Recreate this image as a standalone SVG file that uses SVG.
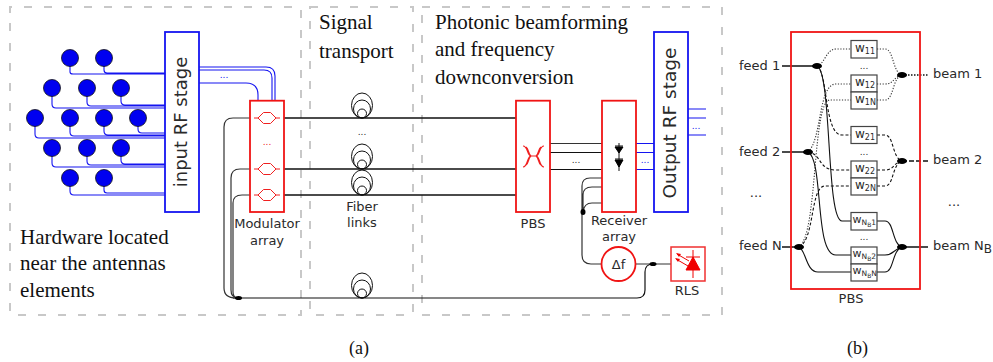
<svg xmlns="http://www.w3.org/2000/svg" width="993" height="362" viewBox="0 0 993 362">
<defs>
<style>
text{font-family:"DejaVu Sans",sans-serif;fill:#2a2a2a}
.serif{font-family:"Liberation Serif",serif;font-size:21px;fill:#111}
.lab{font-size:13px;text-anchor:middle}
.lab2{font-size:13px}
.d{font-size:9px;text-anchor:middle}
.dash{fill:none;stroke:#c8c8c8;stroke-width:2;stroke-dasharray:8 12}
.blue{fill:none;stroke:#1414f0;stroke-width:1.100}
.bk{fill:none;stroke:#111;stroke-width:1.700}
.gr{fill:none;stroke:#333;stroke-width:1.200}
.rb{fill:#fff;stroke:#f01414;stroke-width:1.800}
.bb{fill:#fff;stroke:#1414f0;stroke-width:1.800}
.rl{fill:none;stroke:#f02020;stroke-width:1}
.ant{fill:#0000f0;stroke:#111;stroke-width:.8}
.coil{fill:none;stroke:#111;stroke-width:1}
.w{fill:#fff;stroke:#444;stroke-width:1.200}
.s{fill:none;stroke:#111;stroke-width:1.100}
.dt{fill:none;stroke:#333;stroke-width:1.100;stroke-dasharray:1.200 1.600}
.da{fill:none;stroke:#111;stroke-width:1.100;stroke-dasharray:3 2}
.hub{fill:#000}
</style>
<g id="mz"><path class="rl" d="M-13 0H-9L-3.500 -5.500H3.500L9 0H13M-9 0L-3.500 5.500H3.500L9 0"/></g>
<g id="coilg"><ellipse class="coil" cx="0" cy="-12.500" rx="10.500" ry="12.500"/><ellipse class="coil" cx="0" cy="-9" rx="8.500" ry="9"/><ellipse class="coil" cx="0" cy="-4.500" rx="4.500" ry="4.500"/></g>
</defs>
<g id="regions">
<path class="dash" d="M10 13V7H301V315H10V13"/>
<path class="dash" d="M310 7H413V315H310Z"/>
<path class="dash" d="M422 7H722V315H422Z"/>
</g>
<g id="connectors">
<path class="blue" d="M70 66V72Q70 74 73 74H165M104 66V70Q104 73 107 73H165"/>
<path class="blue" d="M52 96V104Q52 108 56 108H165M87 96V102Q87 106 91 106H165M121 96V101Q121 105 125 105H165"/>
<path class="blue" d="M35 126V134Q35 138 39 138H165M70 126V132Q70 136 74 136H165M104 126V131Q104 135 108 135H165M138 126V129Q138 133 142 133H165"/>
<path class="blue" d="M52 156V163Q52 167 56 167H165M87 156V161Q87 165 91 165H165M121 156V160Q121 164 125 164H165"/>
<path class="blue" d="M70 186V191Q70 195 74 195H165M104 186V190Q104 193 107 193H165"/>
<path class="blue" d="M199 67H266Q275 67 275 76V101M199 70H264Q272 70 272 78V101M199 83H246Q258 83 258 95V101"/>
<path class="bk" d="M284 118H516M284 169H516M284 195H516"/>
<path class="bk" style="stroke-width:1.200" d="M233 298H637Q645 298 645 290V272Q645 264 653 264"/>
<path class="gr" d="M250 118H233Q224 118 224 127V288Q224 298 236 298"/>
<path class="gr" d="M250 169H240Q231 169 231 178V290Q231 298 238 298"/>
<path class="gr" d="M250 195H242Q233 195 233 203V292Q233 298 238 298"/>
<path class="gr" d="M550 143.500H602"/><path class="bk" style="stroke-width:1.200" d="M550 152.500H602M550 169.500H602"/>
<path class="gr" d="M602 178H590Q582 178 582 186V255Q582 264 591 264H601M602 187H592Q583 187 583 195V212M602 203H592Q584 203 583 212"/>
<path class="gr" d="M636 264H671"/>
<path class="blue" d="M636 143.500H654M636 152.500H654M636 169.500H654M688 109H706M688 118H706M688 135H706"/>
<path class="bk" style="stroke-width:1.500" d="M782 66H817M782 152H808M782 247H799M902 247H928"/>
<path class="bk" style="stroke-width:1.500;stroke-dasharray:1.500 1.500" d="M902 75H928"/>
<path class="bk" style="stroke-width:1.500;stroke-dasharray:5 2" d="M902 161H928"/>
<path class="dt" d="M817 66C825 64 826 49 836 49H851M808 152C822 140 818 84 836 84H851M799 247C818 235 812 100 830 100H851"/>
<path class="da" d="M817 66C828 72 824 135 842 135H851M808 152C822 154 818 170 836 170H851M799 247C815 240 810 186 825 186H851"/>
<path class="s" d="M817 66C832 72 826 221 842 221H851M808 152C824 160 814 255 836 255H851M799 247C806 250 806 272 818 272H851"/>
<path class="dt" d="M877 49H885C894 49 892 72 902 75M877 84H885C894 84 892 78 902 75M877 100H885C894 100 892 78 902 75"/>
<path class="da" d="M877 135H885C894 135 892 158 902 161M877 170H885C894 170 892 164 902 161M877 186H885C894 186 892 164 902 161"/>
<path class="s" d="M877 221H885C894 221 892 244 902 247M877 255H885C894 255 892 250 902 247M877 272H885C894 272 892 250 902 247"/>
<ellipse class="hub" cx="238.500" cy="298" rx="3.500" ry="2"/>
<ellipse class="hub" cx="583" cy="212" rx="2.500" ry="3"/>
<ellipse class="hub" cx="653" cy="264" rx="3.500" ry="2"/>
<ellipse class="hub" cx="817" cy="66" rx="5" ry="3"/><ellipse class="hub" cx="808" cy="152" rx="5" ry="3"/><ellipse class="hub" cx="799" cy="247" rx="5" ry="3"/>
<ellipse class="hub" cx="902" cy="75" rx="5" ry="3"/><ellipse class="hub" cx="902" cy="161" rx="5" ry="3"/><ellipse class="hub" cx="902" cy="247" rx="5" ry="3"/>
</g>
<g id="antennas">
<circle class="ant" cx="70" cy="58" r="8.500"/><circle class="ant" cx="104" cy="58" r="8.500"/>
<circle class="ant" cx="52" cy="88" r="8.500"/><circle class="ant" cx="87" cy="88" r="8.500"/><circle class="ant" cx="121" cy="88" r="8.500"/>
<circle class="ant" cx="35" cy="118" r="8.500"/><circle class="ant" cx="70" cy="118" r="8.500"/><circle class="ant" cx="104" cy="118" r="8.500"/><circle class="ant" cx="138" cy="118" r="8.500"/>
<circle class="ant" cx="52" cy="148" r="8.500"/><circle class="ant" cx="87" cy="148" r="8.500"/><circle class="ant" cx="121" cy="148" r="8.500"/>
<circle class="ant" cx="70" cy="178" r="8.500"/><circle class="ant" cx="104" cy="178" r="8.500"/>
</g>
<g id="input-rf"><rect class="bb" x="165" y="32" width="34" height="180"/><text transform="translate(187 122) rotate(-90)" text-anchor="middle" style="font-size:18px">input RF stage</text><text class="d" x="224" y="78" style="fill:#1414f0">...</text></g>
<g id="modulator"><rect class="rb" x="250" y="100.700" width="34" height="111.300"/>
<use href="#mz" x="267" y="118"/><use href="#mz" x="267" y="169"/><use href="#mz" x="267" y="195"/>
<text class="d" x="267" y="145" style="fill:#f02020">...</text>
<text class="lab" x="267" y="228">Modulator</text><text class="lab" x="267" y="245">array</text></g>
<g id="fibers"><use href="#coilg" x="362" y="118"/><use href="#coilg" x="362" y="169"/><use href="#coilg" x="362" y="195"/><use href="#coilg" x="362" y="298"/>
<text class="d" x="362" y="135">...</text>
<text class="lab" x="362" y="211">Fiber</text><text class="lab" x="362" y="227">links</text></g>
<g id="pbs"><rect class="rb" x="516" y="100.700" width="34" height="111.300"/>
<path class="rl" style="stroke-width:1.200" d="M523 146C528 146 527 156 531 156H536C540 156 539 146 544 146M523 167C528 167 527 156 531 156H536C540 156 539 167 544 167M526 147C529 149 528 154 531 156M541 147C538 149 539 154 536 156M526 165C529 163 528 158 531 156M541 165C538 163 539 158 536 156"/>
<text class="lab" x="533" y="228">PBS</text></g>
<text class="d" x="576" y="163">...</text>
<g id="receiver"><rect class="rb" x="602" y="100.700" width="34" height="111.300"/>
<path d="M619 143V171" stroke="#111" fill="none"/><path d="M615 147H623L619 153ZM615 160H623L619 167Z" fill="#000" stroke="#000"/><path d="M615 146H623M615 159H623" stroke="#111"/>
<text class="lab" x="619" y="225">Receiver</text><text class="lab" x="619" y="241">array</text></g>
<text class="d" x="645" y="163" style="fill:#1414f0">...</text>
<g id="output-rf"><rect class="bb" x="654" y="32" width="34" height="180"/><text transform="translate(676 123) rotate(-90)" text-anchor="middle" style="font-size:18.500px">Output RF stage</text><text class="d" x="696" y="129" style="fill:#1414f0">...</text></g>
<g id="delta-f"><circle cx="618.500" cy="264" r="17" fill="#fff" stroke="#f01414" stroke-width="1.800"/><text class="lab" x="618.500" y="268.500">Δf</text></g>
<g id="rls"><rect x="671" y="247" width="34" height="34" fill="#fff" stroke="#f03030" stroke-width="1.500"/>
<path d="M686 270L693 257L700 270Z" fill="#f00000" stroke="#f00000"/><path d="M686 257H700M693 250V278" stroke="#f00000" fill="none"/>
<path d="M689 261L677 254M688 266L676 259" stroke="#f00000" fill="none"/><path d="M676 253L681 254L679 257ZM675 258L680 259L678 262Z" fill="#f00000"/>
<text class="lab" x="687" y="295">RLS</text></g>
<g id="titles">
<text class="serif" x="319" y="29">Signal</text><text class="serif" x="319" y="58">transport</text>
<text class="serif" x="435" y="29">Photonic beamforming</text><text class="serif" x="435" y="56">and frequency</text><text class="serif" x="435" y="84">downconversion</text>
<text class="serif" x="20" y="244">Hardware located</text><text class="serif" x="20" y="270">near the antennas</text><text class="serif" x="20" y="297">elements</text>
<text class="serif" style="font-size:18px" x="349" y="354">(a)</text><text class="serif" style="font-size:18px" x="847" y="354">(b)</text>
</g>
<g id="pbs-b-frame"><rect x="791" y="32" width="129" height="257" fill="none" stroke="#f01414" stroke-width="1.800"/><text class="lab" x="851" y="303">PBS</text></g>
<g id="weights">
<rect class="w" x="851" y="40.500" width="26" height="17.500"/><text x="855" y="52" font-size="12">w<tspan font-size="8" dy="2">11</tspan></text>
<rect class="w" x="851" y="75" width="26" height="17"/><text x="855" y="86" font-size="12">w<tspan font-size="8" dy="2">12</tspan></text>
<rect class="w" x="851" y="92" width="26" height="17"/><text x="855" y="103" font-size="12">w<tspan font-size="8" dy="2">1N</tspan></text>
<rect class="w" x="851" y="126.500" width="26" height="17"/><text x="855" y="138" font-size="12">w<tspan font-size="8" dy="2">21</tspan></text>
<rect class="w" x="851" y="161" width="26" height="17"/><text x="855" y="172" font-size="12">w<tspan font-size="8" dy="2">22</tspan></text>
<rect class="w" x="851" y="178" width="26" height="17"/><text x="855" y="189" font-size="12">w<tspan font-size="8" dy="2">2N</tspan></text>
<rect class="w" x="851" y="212.500" width="26" height="17.500"/><text x="852.500" y="223" font-size="11">w<tspan font-size="7.500" dy="2">N</tspan><tspan font-size="6" dy="1.500">B</tspan><tspan font-size="7.500" dy="-1.500">1</tspan></text>
<rect class="w" x="851" y="247" width="26" height="17"/><text x="852.500" y="257" font-size="11">w<tspan font-size="7.500" dy="2">N</tspan><tspan font-size="6" dy="1.500">B</tspan><tspan font-size="7.500" dy="-1.500">2</tspan></text>
<rect class="w" x="851" y="264" width="26" height="17"/><text x="852.500" y="274" font-size="11">w<tspan font-size="7.500" dy="2">N</tspan><tspan font-size="6" dy="1.500">B</tspan><tspan font-size="7.500" dy="-1.500">N</tspan></text>
<text class="d" x="864" y="69">...</text><text class="d" x="864" y="155">...</text><text class="d" x="864" y="240">...</text>
</g>
<g id="labels-b">
<text class="lab2" x="739" y="70">feed 1</text><text class="lab2" x="739" y="156">feed 2</text><text class="lab2" x="739" y="250">feed N</text>
<text class="lab2" x="933" y="78">beam 1</text><text class="lab2" x="933" y="164">beam 2</text><text class="lab2" x="933" y="250">beam N<tspan font-size="12" dy="3">B</tspan></text>
<text class="lab2" x="756" y="197" text-anchor="middle">...</text><text class="lab2" x="954" y="206" text-anchor="middle">...</text>
</g>
</svg>
